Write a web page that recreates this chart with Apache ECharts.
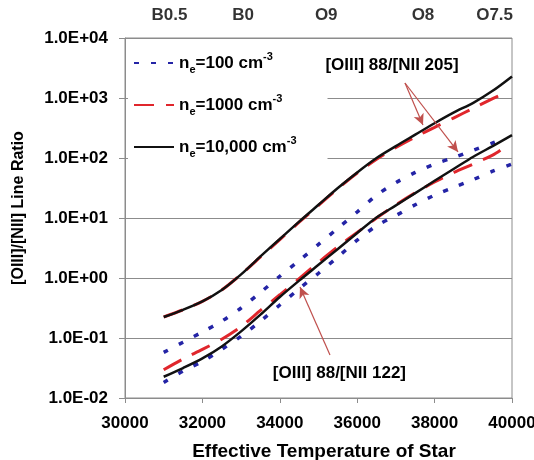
<!DOCTYPE html>
<html>
<head>
<meta charset="utf-8">
<title>[OIII]/[NII] Line Ratio</title>
<script src="https://cdn.jsdelivr.net/npm/echarts@6/dist/echarts.min.js"></script>
<style>
    html, body {margin: 0; padding: 0; background: #fff;}
    #chart {width: 534px; height: 460px;}
</style>
</head>
<body>
<div id="chart"></div>
<script>
/** 温度轴 (K) */
var temps = [31000, 31500, 32000, 32500, 33000, 33500, 34000, 34500, 35000, 35500,
    36000, 36500, 37000, 37500, 38000, 38500, 39000, 39500, 40000];
/** 红线和上蓝线在 39700 处结束 */
var tempsShort = [31000, 31500, 32000, 32500, 33000, 33500, 34000, 34500, 35000, 35500,
    36000, 36500, 37000, 37500, 38000, 38500, 39000, 39500, 39700];

/** [OIII]88/[NII]205 */
var r205ne10000 = [0.224, 0.295, 0.407, 0.631, 1.15, 2.29, 4.47, 8.71, 16.6, 31.6,
    57.5, 100, 158, 245, 380, 575, 832, 1318, 2291];
var r205ne1000 = [0.224, 0.295, 0.407, 0.631, 1.15, 2.24, 4.37, 8.51, 16.2, 30.9,
    56.2, 95.5, 150, 224, 324, 468, 676, 977, 1122];
var r205ne100 = [0.0575, 0.0851, 0.126, 0.191, 0.316, 0.575, 1.07, 1.95, 3.63, 6.76,
    12.6, 24.0, 38.9, 57.5, 79.4, 102, 135, 178, 200];

/** [OIII]88/[NII]122 */
var r122ne10000 = [0.0226, 0.0316, 0.0457, 0.0724, 0.129, 0.245, 0.482, 0.904, 1.66, 3.05,
    5.62, 10.2, 16.2, 26.0, 41.7, 66.1, 105, 158, 240];
var r122ne1000 = [0.0295, 0.0447, 0.0646, 0.0955, 0.155, 0.288, 0.525, 0.977, 1.82, 3.31,
    5.75, 10.0, 16.6, 26.3, 39.8, 57.5, 79.4, 112, 135];
var r122ne100 = [0.0182, 0.0282, 0.0407, 0.0646, 0.107, 0.191, 0.355, 0.661, 1.20, 2.24,
    4.27, 7.41, 11.0, 16.6, 24.0, 32.4, 43.7, 60.3, 79.4];

/** 顶部光谱型 */
var spectralTypes = ['B0.5', 'B0', 'O9', 'O8', 'O7.5'];
var spectralTemps = [31150, 33050, 35200, 37700, 39550];

/** 注释文字 [T, 比值] */
var noteNames = ['[OIII] 88/[NII 205]', '[OIII] 88/[NII 122]'];
var notePos = [[36900, 3548], [35540, 0.0255]];
/** 箭头 [起点, 终点] */
var arrows = [
    [[37235, 1778], [37700, 355]],
    [[37235, 1778], [38605, 126]],
    [[35297, 0.052], [34522, 0.708]]
];

(function () {

    "use strict";

    var FONT = '"Liberation Sans", Arial, sans-serif';
    var BLUE = '#2424a6';
    var RED = '#e0262c';
    var BLACK = '#111111';
    var GRAY = '#8c8c8c';

    function pairs(xs, ys) {
        var out = [];
        for (var i = 0; i < xs.length; i++) {
            out.push([xs[i], ys[i]]);
        }
        return out;
    }

    function sciLabel(v) {
        var e = Math.round(Math.log(v) / Math.LN10);
        var a = Math.abs(e);
        return '1.0E' + (e < 0 ? '-' : '+') + (a < 10 ? '0' : '') + a;
    }

    /** 图例文字, 含上下标 */
    var legendText = {
        'ne100': '{n|n}{s|e}{n|=100 cm}{p|-3}',
        'ne1000': '{n|n}{s|e}{n|=1000 cm}{p|-3}',
        'ne10000': '{n|n}{s|e}{n|=10,000 cm}{p|-3}'
    };

    function lineSeries(name, xs, ys, color, width, type, z) {
        return {
            name: name,
            type: 'line',
            data: pairs(xs, ys),
            smooth: 0.3,
            symbol: 'none',
            showSymbol: false,
            z: z,
            lineStyle: {color: color, width: width, type: type, cap: 'butt'},
            itemStyle: {color: color}
        };
    }

    var spectralData = [];
    for (var i = 0; i < spectralTypes.length; i++) {
        spectralData.push({name: spectralTypes[i], value: [spectralTemps[i], 10000]});
    }
    var noteData = [];
    for (var j = 0; j < noteNames.length; j++) {
        noteData.push({name: noteNames[j], value: notePos[j]});
    }
    var arrowData = [];
    for (var k = 0; k < arrows.length; k++) {
        arrowData.push([{coord: arrows[k][0]}, {coord: arrows[k][1]}]);
    }

    var series = [
        lineSeries('ne100', tempsShort, r205ne100, BLUE, 3.5, [5, 12], 2),
        lineSeries('ne100', temps, r122ne100, BLUE, 3.5, [5, 12], 2),
        lineSeries('ne1000', tempsShort, r205ne1000, RED, 3, [20, 12], 3),
        lineSeries('ne1000', tempsShort, r122ne1000, RED, 3, [20, 12], 3),
        lineSeries('ne10000', temps, r205ne10000, BLACK, 2.5, 'solid', 4),
        lineSeries('ne10000', temps, r122ne10000, BLACK, 2.5, 'solid', 4),
        {
            name: 'spectral',
            type: 'scatter',
            data: spectralData,
            symbolSize: 0,
            clip: false,
            silent: true,
            label: {
                show: true,
                position: 'top',
                distance: 14,
                formatter: '{b}',
                color: '#000',
                fontFamily: FONT,
                fontWeight: 'bold',
                fontSize: 17
            }
        },
        {
            name: 'notes',
            type: 'scatter',
            data: noteData,
            symbolSize: 0,
            clip: false,
            silent: true,
            z: 6,
            label: {
                show: true,
                position: [0, 0],
                align: 'center',
                verticalAlign: 'middle',
                formatter: '{b}',
                color: '#000',
                opacity: 1,
                fontFamily: FONT,
                fontWeight: 'bold',
                fontSize: 17
            },
            markLine: {
                silent: true,
                symbol: ['none', 'arrow'],
                symbolSize: [8, 11],
                label: {show: false},
                lineStyle: {color: '#c0504d', width: 1.2, type: 'solid'},
                data: arrowData
            }
        }
    ];

    var myChart = echarts.init(document.getElementById('chart'), null, {renderer: 'canvas'});
    var option = {
        animation: false,
        backgroundColor: '#fff',
        textStyle: {fontFamily: FONT},
        grid: {
            left: 125,
            right: 22,
            top: 38,
            bottom: 62,
            outerBoundsMode: 'none',
            show: true,
            borderColor: GRAY,
            borderWidth: 1
        },
        legend: {
            data: ['ne100', 'ne1000', 'ne10000'],
            orient: 'vertical',
            left: 128,
            top: 43,
            padding: [8, 31, 10, 5],
            itemGap: 18,
            itemWidth: 40,
            itemHeight: 14,
            backgroundColor: '#fff',
            selectedMode: false,
            itemStyle: {opacity: 0},
            formatter: function (name) {
                return legendText[name];
            },
            textStyle: {
                fontFamily: FONT,
                color: '#000',
                rich: {
                    n: {fontSize: 17, fontWeight: 'bold', fontFamily: FONT, lineHeight: 24, color: '#000'},
                    s: {fontSize: 11, fontWeight: 'bold', fontFamily: FONT, lineHeight: 9, verticalAlign: 'bottom', color: '#000'},
                    p: {fontSize: 11, fontWeight: 'bold', fontFamily: FONT, lineHeight: 16, verticalAlign: 'top', color: '#000'}
                }
            }
        },
        xAxis: {
            type: 'value',
            min: 30000,
            max: 40000,
            interval: 2000,
            name: 'Effective Temperature of Star',
            nameLocation: 'middle',
            nameGap: 44,
            nameTextStyle: {fontFamily: FONT, fontWeight: 'bold', fontSize: 19, color: '#000', padding: [0, 0, 0, 11]},
            axisLine: {show: true, lineStyle: {color: GRAY}},
            axisTick: {show: true, length: 5, lineStyle: {color: GRAY}},
            splitLine: {show: false},
            axisLabel: {
                fontFamily: FONT,
                fontWeight: 'bold',
                fontSize: 17,
                color: '#000',
                margin: 17,
                formatter: function (v) {
                    return String(v);
                }
            }
        },
        yAxis: {
            type: 'log',
            logBase: 10,
            min: 0.01,
            max: 10000,
            name: '[OIII]/[NII] Line Ratio',
            nameLocation: 'middle',
            nameGap: 98,
            nameTextStyle: {fontFamily: FONT, fontWeight: 'bold', fontSize: 16, color: '#000', padding: [0, 0, 0, 20]},
            axisLine: {show: true, lineStyle: {color: GRAY}},
            axisTick: {show: true, length: 6, lineStyle: {color: GRAY}},
            minorTick: {show: false},
            splitLine: {show: true, lineStyle: {color: GRAY, width: 1}},
            axisLabel: {
                fontFamily: FONT,
                fontWeight: 'bold',
                fontSize: 17,
                color: '#000',
                margin: 17,
                formatter: sciLabel
            }
        },
        series: series
    };
    myChart.setOption(option);
    window.onresize = myChart.resize;

})();
</script>
</body>
</html>
